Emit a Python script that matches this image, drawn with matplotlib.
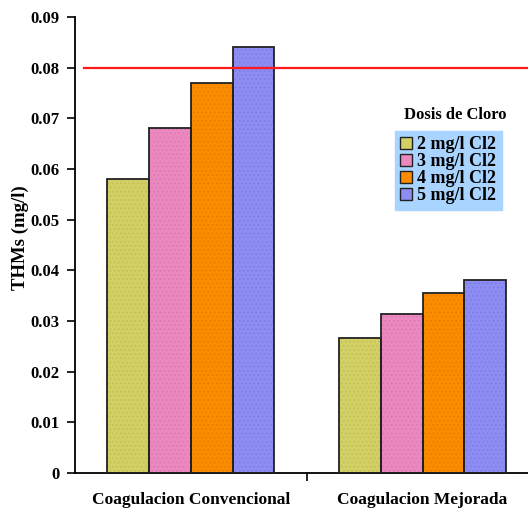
import matplotlib.pyplot as plt
import numpy as np
from matplotlib.patches import Patch

# THMs concentration (mg/l) by chlorine dose for each coagulation process
procesos = ["Coagulacion Convencional", "Coagulacion Mejorada"]
dosis = ["2 mg/l Cl2", "3 mg/l Cl2", "4 mg/l Cl2", "5 mg/l Cl2"]
thm_2 = [0.058, 0.0267]
thm_3 = [0.068, 0.0314]
thm_4 = [0.077, 0.0356]
thm_5 = [0.084, 0.038]
limite = 0.080

colores = ["#d2d064", "#ec88c0", "#fb8c00", "#8c8cf2"]
tramas = ["#c0be55", "#dc78b0", "#e57d00", "#7c7ce6"]

plt.rcParams["font.family"] = ["Liberation Serif", "DejaVu Serif"]
plt.rcParams["font.weight"] = "bold"
plt.rcParams["hatch.linewidth"] = 0.6

fig = plt.figure(figsize=(5.28, 5.13), dpi=100)
ax = fig.add_axes([0.142, 0.078, 0.858, 0.889])

x = np.arange(len(procesos))
w = 0.18
series = [thm_2, thm_3, thm_4, thm_5]
for i, vals in enumerate(series):
    pos = x + (i - 1.5) * w
    ax.bar(pos, vals, w, color=colores[i], edgecolor=tramas[i], hatch="....",
           linewidth=0, zorder=2)
    ax.bar(pos, vals, w, fill=False, edgecolor="#222222", linewidth=1.3, zorder=3)

ax.axhline(limite, xmin=0.02, xmax=1, color="#ff1a1a", linewidth=1.6, zorder=4)

ax.set_xlim(-0.5, 1.455)
ax.set_ylim(0, 0.09)
ax.set_yticks(np.arange(0, 0.091, 0.01))
ax.set_yticklabels(["0"] + ["%.2f" % v for v in np.arange(0.01, 0.091, 0.01)],
                   fontsize=12, fontweight="bold")
ax.set_xticks(x)
ax.set_xticklabels(procesos, fontsize=12.5, fontweight="bold")
ax.set_xticks([0.5], minor=True)
ax.tick_params(axis="x", which="major", length=0, pad=14)
ax.tick_params(axis="x", which="minor", length=6, width=1.2)
ax.tick_params(axis="y", length=6, width=1.2, pad=5)

# y label drawn in figure coords, it crowds the tick labels a little
fig.text(0.038, 0.536, "THMs (mg/l)", rotation=90, ha="center", va="center",
         fontsize=13.5, fontweight="bold")

for s in ["top", "right"]:
    ax.spines[s].set_visible(False)
for s in ["left", "bottom"]:
    ax.spines[s].set_linewidth(1.3)

# legend title sits above the shaded box
fig.text(0.862, 0.776, "Dosis de Cloro", ha="center", va="center",
         fontsize=12, fontweight="bold")
handles = [Patch(facecolor=colores[i], edgecolor="#222222", label=dosis[i])
           for i in range(4)]
leg = ax.legend(handles=handles, loc="upper left",
                bbox_to_anchor=(0.706, 0.75), frameon=True, fontsize=13,
                handlelength=0.65, handleheight=0.65, handletextpad=0.3,
                labelspacing=0.0, borderpad=0.3, borderaxespad=0,
                fancybox=False)
frame = leg.get_frame()
frame.set_facecolor("#a8d4ff")
frame.set_edgecolor("#a8d4ff")
frame.set_alpha(1)

fig.savefig("out.png", dpi=100)
